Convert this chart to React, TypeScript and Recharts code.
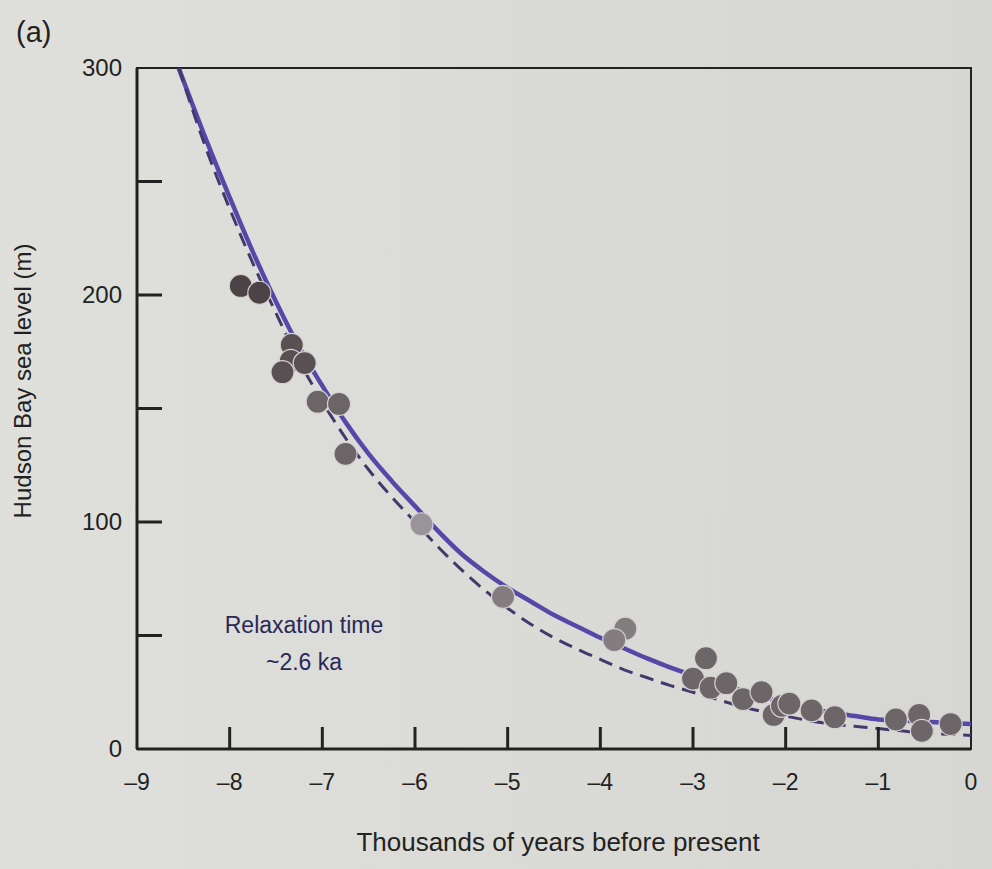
import React from 'react';
import { ComposedChart, Line, Scatter, XAxis, YAxis, ReferenceArea } from 'recharts';

// ---- data ----
const xTicks = [-9, -8, -7, -6, -5, -4, -3, -2, -1, 0];
const yTicks = [0, 50, 100, 150, 200, 250, 300];

// observed Hudson Bay sea-level points (thousands of years BP, metres)
const obsX = [-7.88, -7.68, -7.33, -7.34, -7.43, -7.19, -7.05, -6.82, -6.75, -5.93, -5.05, -3.73, -3.85, -2.86, -3.0, -2.81, -2.64, -2.46, -2.26, -2.13, -2.04, -1.96, -1.72, -1.47, -0.81, -0.56, -0.53, -0.22];
const obsY = [204, 201, 178, 171, 166, 170, 153, 152, 130, 99, 67, 53, 48, 40, 31, 27, 29, 22, 25, 15, 19, 20, 17, 14, 13, 15, 8, 11];

// model curves
const fitX = [-8.55, -8.25, -8.0, -7.75, -7.5, -7.25, -7.0, -6.75, -6.5, -6.25, -6.0, -5.75, -5.5, -5.25, -5.0, -4.75, -4.5, -4.25, -4.0, -3.75, -3.5, -3.25, -3.0, -2.75, -2.5, -2.25, -2.0, -1.75, -1.5, -1.25, -1.0, -0.75, -0.5, -0.25, 0];
const fitSolid = [300, 268, 243, 219, 197, 177, 160, 144, 130, 118, 107, 96, 86, 78, 71, 65, 59, 54, 49, 44.5, 40, 36, 32.5, 29, 26, 23, 20.5, 18, 16, 14.5, 13, 12.5, 12, 11.5, 11];
const fitDashed = [300, 264, 238, 214, 192, 171, 153, 137, 123, 111, 100, 89, 79, 70, 62, 55, 49, 44, 39.5, 35, 31.5, 28, 25, 22, 19, 16.5, 14.5, 12.5, 11, 10, 9, 8, 7, 6.5, 6];

const obsData = obsX.map((x, i) => ({ x, y: obsY[i] }));
const solidData = fitX.map((x, i) => ({ x, y: fitSolid[i] }));
const dashedData = fitX.map((x, i) => ({ x, y: fitDashed[i] }));

const FONT = '"Liberation Sans", Arial, Helvetica, sans-serif';
const INK = '#222222';

function YTick(props: any) {
  const { x, y, payload } = props;
  const v = payload.value;
  return (
    <g>
      {v !== 0 && v !== 300 ? (
        <line x1={x} x2={x + 25} y1={y} y2={y} stroke={INK} strokeWidth={3} />
      ) : null}
      {v % 100 === 0 ? (
        <text x={x - 15} y={y + 8} textAnchor="end" fontSize={24} fill={INK} fontFamily={FONT}>
          {v}
        </text>
      ) : null}
    </g>
  );
}

function XTick(props: any) {
  const { x, y, payload } = props;
  const v = payload.value;
  const label = v < 0 ? '\u2013' + Math.abs(v) : String(v);
  return (
    <g>
      {v > -9 && v < 0 ? <line x1={x} x2={x} y1={y} y2={y - 22} stroke={INK} strokeWidth={3} /> : null}
      <text x={x} y={y + 41} textAnchor="middle" fontSize={23} fill={INK} fontFamily={FONT}>
        {label}
      </text>
    </g>
  );
}

function dotColor(v: number) {
  if (v > 190) return '#4b4346';
  if (v > 160) return '#585053';
  if (v > 120) return '#6c6568';
  if (v > 80) return '#99939a';
  if (v > 40) return '#837d80';
  return '#6d6669';
}

function Dot(props: any) {
  const { cx, cy, payload } = props;
  return <circle cx={cx} cy={cy} r={11.5} fill={dotColor(payload.y)} stroke="#d6d1d1" strokeWidth={1.2} />;
}

export default function App() {
  return (
    <div
      style={{
        position: 'absolute',
        left: 0,
        top: 0,
        width: 992,
        height: 869,
        background: 'linear-gradient(90deg, #dfe0db 0%, #d6d7d2 100%)',
        overflow: 'hidden',
        fontFamily: FONT,
      }}
    >
      <ComposedChart
        width={992}
        height={869}
        margin={{ top: 68, right: 21, bottom: 80, left: 0 }}
        style={{ position: 'absolute', left: 0, top: 0 }}
      >
        <XAxis
          dataKey="x"
          type="number"
          domain={[-9, 0]}
          ticks={xTicks}
          interval={0}
          height={40}
          tickSize={0}
          tickMargin={0}
          tickLine={false}
          axisLine={{ stroke: INK, strokeWidth: 3 }}
          tick={<XTick />}
          allowDataOverflow
        />
        <YAxis
          dataKey="y"
          type="number"
          domain={[0, 300]}
          ticks={yTicks}
          interval={0}
          width={137}
          tickSize={0}
          tickMargin={0}
          tickLine={false}
          axisLine={{ stroke: INK, strokeWidth: 3 }}
          tick={<YTick />}
          allowDataOverflow
        />
        <ReferenceArea x1={-9} x2={0} y1={0} y2={300} fill="none" stroke={INK} strokeWidth={2} />
        <Line
          data={solidData}
          dataKey="y"
          type="monotone"
          stroke="#5548a8"
          strokeWidth={4.5}
          dot={false}
          isAnimationActive={false}
        />
        <Line
          data={dashedData}
          dataKey="y"
          type="monotone"
          stroke="#45386c"
          strokeWidth={3}
          strokeDasharray="14 8"
          dot={false}
          isAnimationActive={false}
        />
        <Scatter data={obsData} dataKey="y" shape={<Dot />} isAnimationActive={false} />
      </ComposedChart>
      <svg
        width={992}
        height={869}
        style={{ position: 'absolute', left: 0, top: 0, pointerEvents: 'none' }}
      >
        <text x={16} y={42} fontSize={29} fill={INK} fontFamily={FONT}>
          (a)
        </text>
        <text
          transform="translate(31,381) rotate(-90)"
          textAnchor="middle"
          fontSize={24}
          fill={INK}
          fontFamily={FONT}
        >
          Hudson Bay sea level (m)
        </text>
        <text x={558} y={851} textAnchor="middle" fontSize={26} fill={INK} fontFamily={FONT}>
          Thousands of years before present
        </text>
        <text x={304} y={633} textAnchor="middle" fontSize={23} fill="#2b2857" fontFamily={FONT}>
          Relaxation time
        </text>
        <text x={304} y={670} textAnchor="middle" fontSize={23} fill="#2b2857" fontFamily={FONT}>
          ~2.6 ka
        </text>
      </svg>
    </div>
  );
}
